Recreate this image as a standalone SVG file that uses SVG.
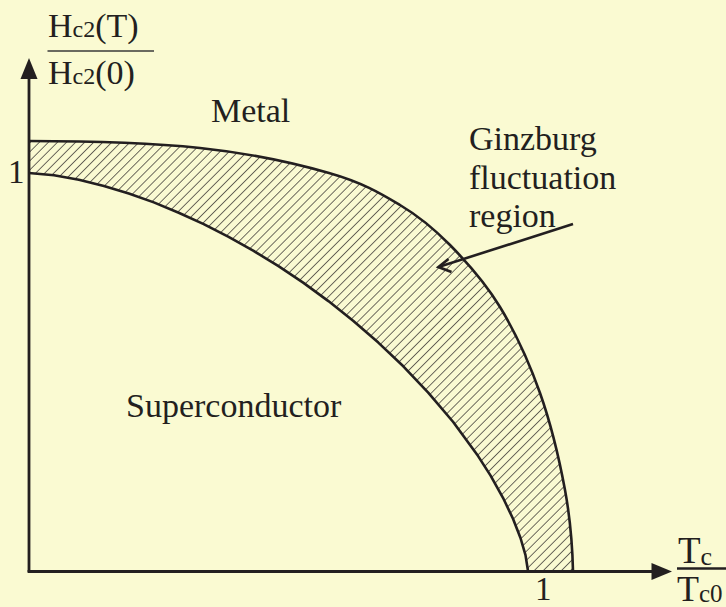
<svg xmlns="http://www.w3.org/2000/svg" width="726" height="607" viewBox="0 0 726 607">
<defs>
<style>
.bg{fill:#FAFAD2}
.ink{stroke:#231F20;fill:none}
.curve{stroke:#231F20;fill:none;stroke-width:2.6;stroke-linejoin:round}
.axis{stroke:#231F20;stroke-width:2.8;fill:none}
.t{font-family:"Liberation Serif","Times New Roman",serif;fill:#231F20}
.lbl{font-size:34px}
.num{font-size:33px}
</style>
<pattern id="hatch" patternUnits="userSpaceOnUse" width="6.4" height="6.4" patternTransform="rotate(45)">
<line x1="0" y1="-1" x2="0" y2="8" stroke="#231F20" stroke-width="1.3"/>
</pattern>
</defs>
<rect class="bg" x="0" y="0" width="726" height="607"/>
<g id="fluctuation-region">
<path fill="url(#hatch)" stroke="none" d="M29,141 C86,141 150,142.7 200,148 C250,153.3 295.7,163.5 329,173 C362.3,182.5 379.8,193 400,205 C420.2,217 433.3,228 450,245 C466.7,262 485,282.3 500,307 C515,331.7 529.2,362.5 540,393 C550.8,423.5 559.5,460.3 565,490 C570.5,519.7 572.5,550 573,571 L528,571 L525.5,555.1 L520.5,538 L513,518.7 L503,497.8 L490.6,475.6 L478.1,456.1 L453.2,422 L428.2,392.6 L403.3,366.3 L378.3,342.6 L353.4,320.9 L328.4,301.1 L303.5,282.9 L278.5,266.2 L253.6,250.9 L228.6,236.9 L203.7,224.1 L178.7,212.7 L153.8,202.4 L128.8,193.5 L103.9,185.9 L78.9,179.7 L54,175.2 L29,173 Z"/>
</g>
<g id="upper-curve">
<path class="curve" d="M29,141 C86,141 150,142.7 200,148 C250,153.3 295.7,163.5 329,173 C362.3,182.5 379.8,193 400,205 C420.2,217 433.3,228 450,245 C466.7,262 485,282.3 500,307 C515,331.7 529.2,362.5 540,393 C550.8,423.5 559.5,460.3 565,490 C570.5,519.7 572.5,550 573,571"/>
</g>
<g id="lower-curve">
<path class="curve" d="M29,173 L54,175.2 L78.9,179.7 L103.9,185.9 L128.8,193.5 L153.8,202.4 L178.7,212.7 L203.7,224.1 L228.6,236.9 L253.6,250.9 L278.5,266.2 L303.5,282.9 L328.4,301.1 L353.4,320.9 L378.3,342.6 L403.3,366.3 L428.2,392.6 L453.2,422 L478.1,456.1 L490.6,475.6 L503,497.8 L513,518.7 L520.5,538 L525.5,555.1 L528,571"/>
</g>
<g id="axes">
<line class="axis" x1="29" y1="572" x2="29" y2="76"/>
<polygon fill="#231F20" points="29,58 20.5,79 37.5,79"/>
<line class="axis" x1="27.6" y1="571.5" x2="655" y2="571.5"/>
<polygon fill="#231F20" points="672,571.5 651.5,563 651.5,580"/>
</g>
<g id="connectors">
<line class="ink" stroke-width="2.6" x1="573" y1="224" x2="440" y2="266.5"/>
<polyline class="ink" stroke-width="2.8" stroke-linejoin="miter" points="448.5,259 438.5,267 451.5,272"/>
</g>
<g id="y-label">
<text class="t lbl" x="48" y="36.5">H<tspan font-size="24">c2</tspan>(T)</text>
<line x1="47.5" y1="51" x2="154" y2="51" stroke="#3A3A3A" stroke-width="1.4"/>
<text class="t lbl" x="48" y="83.5">H<tspan font-size="24">c2</tspan>(0)</text>
</g>
<g id="x-label">
<text class="t" font-size="37" x="678" y="562.5">T<tspan font-size="26" dy="2">c</tspan></text>
<line x1="677" y1="568.5" x2="726" y2="568.5" stroke="#231F20" stroke-width="2.4"/>
<text class="t" font-size="36" x="677" y="601">T<tspan font-size="25" dy="1">c0</tspan></text>
</g>
<g id="ticks">
<text class="t num" x="8" y="183">1</text>
<text class="t num" x="535" y="600">1</text>
</g>
<g id="labels">
<text class="t lbl" x="211" y="122">Metal</text>
<text class="t lbl" x="126" y="416.5">Superconductor</text>
<text class="t lbl" x="469" y="150">Ginzburg</text>
<text class="t lbl" x="469" y="188.5">fluctuation</text>
<text class="t lbl" x="469" y="227">region</text>
</g>
</svg>
